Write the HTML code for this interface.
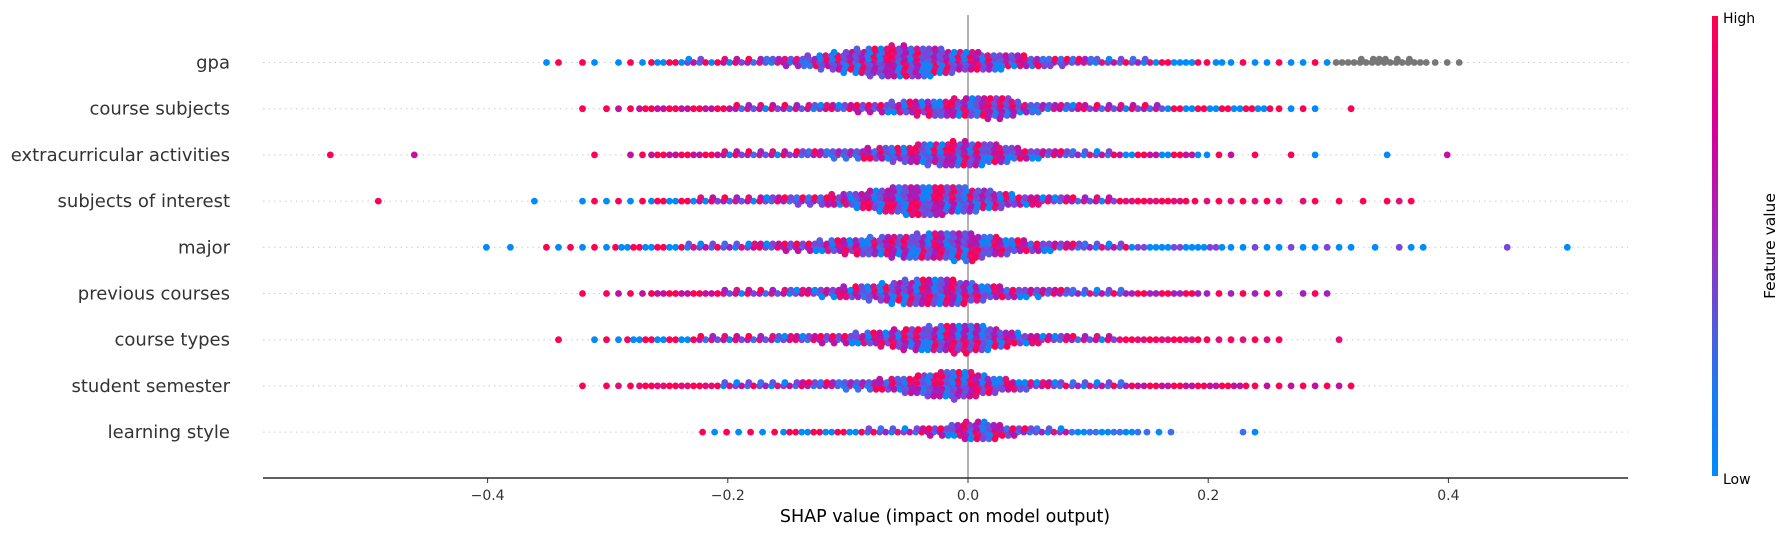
<!DOCTYPE html>
<html><head><meta charset="utf-8">
<style>
html,body{margin:0;padding:0;background:#fff;}
svg{display:block;font-family:"DejaVu Sans","Liberation Sans",sans-serif;}
</style></head>
<body>
<svg id="chart" width="1785" height="536" viewBox="0 0 1785 536" xmlns="http://www.w3.org/2000/svg">
<defs>
<linearGradient id="cbar" x1="0" y1="1" x2="0" y2="0">
<stop offset="0" stop-color="#008bfb"/>
<stop offset="0.2" stop-color="#1e78f0"/>
<stop offset="0.5" stop-color="#9a2ebc"/>
<stop offset="0.75" stop-color="#d4009a"/>
<stop offset="1" stop-color="#ff0052"/>
</linearGradient>
</defs>
<g id="grid"></g>
<line x1="968" y1="15" x2="968" y2="478" stroke="#999" stroke-width="1.5"/>
<g id="dots"></g>
<g id="labels"></g>
<line x1="263" y1="478" x2="1628" y2="478" stroke="#000" stroke-width="1.2"/>
<g id="ticks"></g>
<text x="945" y="522" font-size="17.5" text-anchor="middle" fill="#000">SHAP value (impact on model output)</text>
<rect x="1712" y="16" width="6" height="460" fill="url(#cbar)"/>
<text x="1723" y="23" font-size="14" fill="#000">High</text>
<text x="1723" y="484" font-size="14" fill="#000">Low</text>
<text transform="translate(1775,246) rotate(-90)" font-size="15.5" text-anchor="middle" fill="#000">Feature value</text>
</svg>
<script>
const features = ["gpa","course subjects","extracurricular activities","subjects of interest","major","previous courses","course types","student semester","learning style"];
const binStarts = [-0.35,-0.32,-0.53,-0.49,-0.40,-0.32,-0.34,-0.32,-0.22];
const binWidth = 0.01;
const countsGpa = [1,1,0,1,1,0,1,1,1,2, 2,2,3,3,2,3,3,3,4,4, 5,6,7,9,11,13,15,17,18,19, 19,18,17,15,13,12,11,10,9,8, 7,6,5,5,4,4,3,3,3,3, 3,2,2,2,2,1,2,1,1,1, 1,1,1,1,1,1,2,2,3,4, 3,3,3,2,1,1,1];
const countsSubjects = [1,0,1,1,1,2,2,2,2,2, 2,2,2,3,3,3,3,3,3,4, 4,4,4,5,5,6,7,8,9,10, 10,11,12,12,13,13,9,6,5,4, 4,4,3,3,3,3,3,3,3,2, 2,2,2,2,2,2,2,2,1,1, 1,1,0,0,1];
const countsExtra = [1,0,0,0,0,0,0,1,0,0, 0,0,0,0,0,0,0,0,0,0, 0,0,1,0,0, 1,1,2,2,2,2,2,2,3,3, 3,3,3,3,4,4,4,5,5,6, 7,8,9,10,12,13,14,15,15,14, 12,10,8,6,5,4,4,3,3,3, 3,2,2,2,2,2,2,2,1,1, 1,0,1,0,0,1,0,1,0,0, 0,0,0,1,0,0,0,0,1];
const countsInterest = [1,0,0,0,0,0,0,0,0,0, 0,0,0,1,0,0,0,1,1,1, 1,1,1,2, 2,2,2,3,3,3,3,3,4,4, 4,5,5,6,7,8,10,12,14,16, 18,18,18,17,16,15,13,11,9,7, 6,5,4,4,3,3,3,3,2,2, 2,2,2,2,1,1,1,1,1,1, 1,1,0,1,1,0,1,0,1,0,1,1,1];
const countsMajor = [1,0,1,0,0,1,1,1,1,1, 1,2,2,2,2,2,2,3,3,3, 3,3,4,4,4,5,5,6,7,8, 9,10,11,12,13,14,15,16,16,17, 18,14,12,10,8,7,6,5,4,4, 3,3,3,3,2,2,2,2,2,2, 2,2,1,1,1,1,1,1,1,1, 1,1,1,0,1,0,1,1,1,0, 0,0,0,0,0,1,0,0,0,0,1];
const countsPrev = [1,0,1,1,1,1,2,2,2,2, 2,2,3,3,3,3,3,4,4,4, 5,6,7,8,9,11,13,15,16,16, 16,15,13,10,8,7,6,5,5,4, 4,3,3,3,3,3,2,2,2,2, 2,2,1,1,1,1,1,1,1,0, 1,1,1];
const countsTypes = [1,0,0,1,1,1,2,2,2,2, 2,2,3,3,3,3,3,3,4,4, 4,4,5,5,6,7,8,9,11,13, 14,15,16,17,17,16,13,10,8,6, 5,4,4,3,3,3,3,2,2,2, 2,2,2,2,1,1,1,1,1,1, 1,0,0,0,0,1];
const countsSemester = [1,0,1,1,1,2,2,2,2,2, 2,2,3,3,3,3,3,3,4,4, 4,4,5,5,6,7,8,10,12,14, 16,17,16,13,10,8,6,5,4,4, 3,3,3,3,3,3,2,2,2,2, 2,2,2,2,2,2,1,1,1,1, 1,1,1,1,1];
const countsStyle = [1,1,1,1,1,1,1,2,2,2, 2,2,2,2,3,3,3,3,4,5, 6,8,11,12,10,7,5,4,3,3, 3,2,2,2,2,2,2,1,1,1, 0,0,0,0,0,1,1];
const seriesCounts = [countsGpa,countsSubjects,countsExtra,countsInterest,countsMajor,countsPrev,countsTypes,countsSemester,countsStyle];
const leftTailColors = [["#008bfb","#ff0052"],["#ff0052","#c0119f"],["#ff0052","#c0119f"],["#ff0052","#008bfb"],["#008bfb","#ff0052"],["#ff0052","#c0119f"],["#ff0052","#008bfb"],["#ff0052","#e0107a"],["#ff0052","#008bfb"]];
const rightTailColors = [["#008bfb","#ff0052","#008bfb"],["#ff0052","#008bfb"],["#c0119f","#008bfb","#ff0052"],["#ff0052","#e0107a"],["#008bfb","#7b45d8","#008bfb"],["#a020c0","#ff0052"],["#ff0052","#e0107a"],["#ff0052","#c0119f"],["#008bfb","#3c6ef0"]];
const xTicks = [-0.4,-0.2,0.0,0.2,0.4];
const tickLabels = ["\u22120.4","\u22120.2","0.0","0.2","0.4"];

const NS="http://www.w3.org/2000/svg";
const xScale = v => 968 + v*1201;
const yRow = i => 62.5 + i*46.2;
const palette = ["#ff0052","#008bfb","#a020c0","#7b45d8","#e0107a","#3c6ef0","#c0119f","#5a5ae0"];

const grid=document.getElementById('grid'), dots=document.getElementById('dots'), labels=document.getElementById('labels'), ticks=document.getElementById('ticks');
features.forEach((f,i)=>{
  const y=yRow(i);
  const g=document.createElementNS(NS,'line');
  g.setAttribute('x1',263);g.setAttribute('x2',1628);g.setAttribute('y1',y);g.setAttribute('y2',y);
  g.setAttribute('stroke','#ccc');g.setAttribute('stroke-width','1');g.setAttribute('stroke-dasharray','1.5,4');
  
  
  grid.appendChild(g);
  const t=document.createElementNS(NS,'text');
  t.setAttribute('x',230);t.setAttribute('y',y+6);t.setAttribute('text-anchor','end');
  t.setAttribute('font-size','18');t.setAttribute('fill','#333');t.textContent=f;
  
  
  labels.appendChild(t);
  const counts=seriesCounts[i];
  let k=0;
  counts.forEach((n,b)=>{
    const v=binStarts[i]+b*binWidth;
    const cx0=xScale(v);
    for(let j=0;j<n;j++){
      const col=j%2, r=Math.floor(j/2);
      const off=(r%2===0?1:-1)*Math.ceil(r/2)*3.4;
      const c=document.createElementNS(NS,'circle');
      c.setAttribute('cx',(cx0+(n>1?(col?3:-3):0)+((r%3)-1)*1.2).toFixed(1));
      c.setAttribute('cy',(y+off).toFixed(1));
      c.setAttribute('r',3.4);
      let col_;
      if(n<=2){
        const tp = v<0 ? leftTailColors[i] : rightTailColors[i];
        col_ = tp[(b+j)%tp.length];
      } else {
        col_=palette[(k*3+b+i)%palette.length];
      }
      if(i===0 && v>=0.305) col_='#777';
      c.setAttribute('fill',col_);
      
      
      dots.appendChild(c);
      k++;
    }
  });
});
xTicks.forEach((v,i)=>{
  const x=xScale(v);
  const l=document.createElementNS(NS,'line');
  l.setAttribute('x1',x);l.setAttribute('x2',x);l.setAttribute('y1',478);l.setAttribute('y2',483);
  l.setAttribute('stroke','#333');
  
  
  ticks.appendChild(l);
  const t=document.createElementNS(NS,'text');
  t.setAttribute('x',x);t.setAttribute('y',500);t.setAttribute('text-anchor','middle');
  t.setAttribute('font-size','14');t.setAttribute('fill','#333');t.textContent=tickLabels[i];
  
  
  ticks.appendChild(t);
});
</script>
</body></html>
